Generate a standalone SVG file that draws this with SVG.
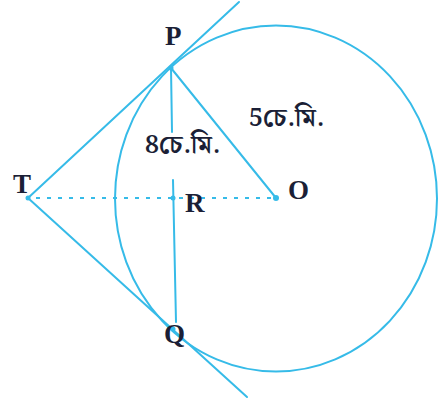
<svg xmlns="http://www.w3.org/2000/svg" width="441" height="406" viewBox="0 0 441 406">
<style>
.ln{stroke:#36bbe8;stroke-width:2;fill:none;stroke-linecap:round}
.dash{stroke:#36bbe8;stroke-width:2;fill:none;stroke-dasharray:4 7}
.lbl{font-family:"Liberation Serif","Times New Roman",serif;font-weight:bold;font-size:27px;fill:#1b1f36}
.bn{font-family:"Noto Serif Bengali","Noto Sans Bengali","Lohit Bengali","Liberation Serif",serif;font-weight:bold;font-size:25px;fill:#1b1f36}
.dot{fill:#36bbe8}
</style>
<rect width="441" height="406" fill="#ffffff"/>
<g id="circle">
<ellipse class="ln" cx="276" cy="198.5" rx="161" ry="173"/>
</g>
<g id="connectors">
<line class="ln" x1="28" y1="198" x2="239" y2="2"/>
<line class="ln" x1="28" y1="198" x2="247" y2="397"/>
<line class="ln" x1="171" y1="68" x2="172" y2="132"/>
<line class="ln" x1="173" y1="180" x2="176" y2="322"/>
<line class="ln" x1="171" y1="68" x2="276" y2="198"/>
<line class="dash" x1="36" y1="198" x2="272" y2="198"/>
</g>
<g id="node-T"><circle class="dot" cx="28" cy="198" r="2.5"/><text class="lbl" x="13" y="193">T</text></g>
<g id="node-P"><circle class="dot" cx="171" cy="68" r="2.5"/><text class="lbl" x="165" y="45">P</text></g>
<g id="node-R"><circle class="dot" cx="173" cy="198" r="2.5"/><text class="lbl" x="185" y="212">R</text></g>
<g id="node-O"><circle class="dot" cx="276" cy="198" r="3"/><text class="lbl" x="288" y="199">O</text></g>
<g id="node-Q"><circle class="dot" cx="173" cy="329" r="2.5"/><text class="lbl" x="164" y="343">Q</text></g>
<g id="labels">
<text class="bn" x="249" y="126">5চে.মি.</text>
<text class="bn" x="145" y="153">8চে.মি.</text>
</g>
</svg>
